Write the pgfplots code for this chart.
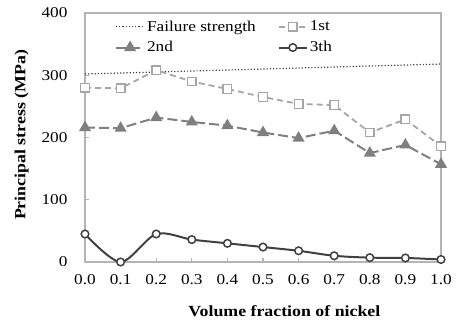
\documentclass[border=0pt]{standalone}
\usepackage{pgfplots}
\pgfplotsset{compat=1.18}
\usepackage{fontspec}
\setmainfont[FakeStretch=1.15]{Liberation Serif}
\definecolor{cfail}{HTML}{404040}
\definecolor{cfirst}{HTML}{A6A6A6}
\definecolor{csecond}{HTML}{7F7F7F}
\definecolor{cthird}{HTML}{404040}
\definecolor{caxis}{HTML}{B4B4B4}
\begin{document}
\begin{tikzpicture}[font=\fontsize{15bp}{18bp}\selectfont]
\begin{axis}[
  name=ax,
  scale only axis,
  width=356bp, height=249bp,
  xmin=0, xmax=1, ymin=0, ymax=400,
  xtick={0,0.1,0.2,0.3,0.4,0.5,0.6,0.7,0.8,0.9,1.0},
  xticklabels={0.0,0.1,0.2,0.3,0.4,0.5,0.6,0.7,0.8,0.9,1.0},
  ytick={0,100,200,300,400},
  yticklabels={0,100,200,300,400},
  xtick pos=bottom, ytick pos=left,
  tick align=inside,
  major tick length=4.5bp,
  tick style={caxis, line width=1.2pt},
  axis line style={caxis, line width=1.2pt},
  xticklabel style={yshift=-9bp},
  yticklabel style={xshift=-14bp},
  xlabel={\fontsize{15.5bp}{18bp}\selectfont\textbf{Volume fraction of nickel}},
  ylabel={\fontsize{15.5bp}{18bp}\selectfont\textbf{Principal stress (MPa)}},
  every axis x label/.style={at={(axis description cs:0.56,-0.197)},anchor=center},
  every axis y label/.style={at={(axis description cs:-0.178,0.51)},anchor=center,rotate=90},
  clip=false,
  legend columns=2,
  legend cell align=left,
  legend style={at={(axis description cs:0.084,0.978)}, anchor=north west,
    draw=none, fill=none, inner sep=0pt, row sep=5bp,
    /tikz/every even column/.append style={column sep=20bp},
    nodes={inner sep=2bp}},
  legend image code/.code={
    \draw[mark repeat=2,mark phase=2] plot coordinates {(0bp,0bp) (14bp,0bp) (28bp,0bp)};},
]
\draw[caxis, line width=1.2pt] (rel axis cs:0,1) -- (rel axis cs:1,1) -- (rel axis cs:1,0);

\addplot[cfail, dotted, line width=1.2pt] coordinates {(0,302) (1,318)};
\addlegendentry{Failure strength}

\addplot[cfirst, line width=1.8pt, dash pattern=on 6bp off 4bp,
  mark=square*, mark size=4.3bp, mark options={solid, fill=white, draw=cfirst, line width=1.3pt}]
  coordinates {(0,280) (0.1,279) (0.2,308) (0.3,290) (0.4,278) (0.5,265) (0.6,254) (0.7,252) (0.8,208) (0.9,229) (1.0,186)};
\addlegendentry{1st}

\addplot[csecond, line width=2pt, dash pattern=on 10bp off 4bp,
  mark=triangle*, mark size=5bp, mark options={solid, fill=csecond, draw=csecond}]
  coordinates {(0,216) (0.1,215) (0.2,232) (0.3,225) (0.4,219) (0.5,208) (0.6,199) (0.7,211) (0.8,175) (0.9,188) (1.0,157)};
\addlegendentry{2nd}

\addplot[cthird, line width=2pt, smooth, tension=0.5,
  mark=*, mark size=3.8bp, mark options={solid, fill=white, draw=cthird, line width=1.5pt}]
  coordinates {(0,45) (0.1,0) (0.2,45) (0.3,36) (0.4,30) (0.5,24) (0.6,18) (0.7,10) (0.8,7) (0.9,6.5) (1.0,4)};
\addlegendentry{3th}
\end{axis}
\pgfresetboundingbox
\path (ax.south west) ++(-85bp,-64bp) rectangle ++(456bp,326bp);
\end{tikzpicture}
\end{document}
